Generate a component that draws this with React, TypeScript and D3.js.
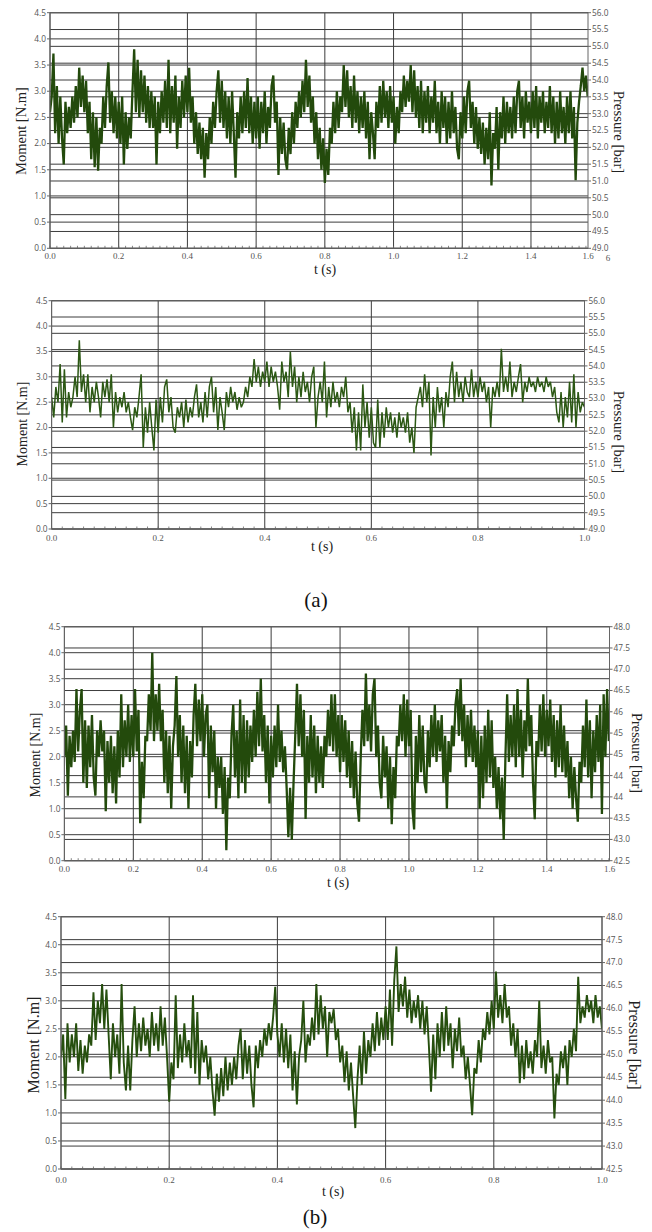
import React from 'react';
import * as d3 from 'd3';

// ---------- tick values / labels ----------
const momentTicks = [0, 0.5, 1.0, 1.5, 2.0, 2.5, 3.0, 3.5, 4.0, 4.5];
const pressureTicksA = [49.0, 49.5, 50.0, 50.5, 51.0, 51.5, 52.0, 52.5, 53.0, 53.5, 54.0, 54.5, 55.0, 55.5, 56.0];
const pressureLabelsA = ['49.0', '49.5', '50.0', '50.5', '51.0', '51.5', '52.0', '52.5', '53.0', '53.5', '54.0', '54.5', '55.0', '55.5', '56.0'];
const pressureTicksB = [42.5, 43.0, 43.5, 44.0, 44.5, 45.0, 45.5, 46.0, 46.5, 47.0, 47.5, 48.0];
const pressureLabelsB3 = ['42.5', '43.0', '43.5', '44', '44', '45', '45', '46', '46.5', '47.0', '47.5', '48.0'];
const pressureLabelsB4 = ['42.5', '43.0', '43.5', '44.0', '44.5', '45.0', '45.5', '46.0', '46.5', '47.0', '47.5', '48.0'];
const timeTicksLong = [0, 0.2, 0.4, 0.6, 0.8, 1.0, 1.2, 1.4];
const timeTicksShort = [0, 0.2, 0.4, 0.6, 0.8, 1.0];

// ---------- series (moment, N.m) ----------
// (a) top: sample every 0.005 s
const momentA1 = [
  2.6, 2.9, 3.72, 2.2, 3.1, 2.0, 2.9, 2.1, 1.6, 2.8,
  2.2, 2.7, 2.3, 2.9, 2.4, 3.1, 2.5, 3.45, 2.7, 3.3,
  2.6, 3.2, 2.2, 2.8, 1.7, 2.6, 1.55, 2.5, 1.48, 2.3,
  2.0, 2.9, 2.3, 3.1, 3.55, 2.4, 3.0, 2.2, 2.9, 2.1,
  2.8, 2.0, 2.9, 1.6, 2.6, 1.9, 2.5, 2.1, 3.0, 3.8,
  2.6, 3.6, 2.5, 3.4, 2.6, 3.3, 2.4, 3.1, 2.3, 3.0,
  2.3, 2.9, 1.6, 2.8, 2.2, 3.0, 2.4, 3.2, 2.3, 3.6,
  2.2, 3.1, 2.4, 3.3, 1.9, 2.9, 2.3, 3.2, 2.5, 3.3,
  2.6, 3.45, 2.4, 2.9, 2.0, 2.6, 1.8, 2.4, 1.7, 2.3,
  1.35, 2.2, 1.7, 2.5, 2.0, 2.8, 2.3, 3.0, 3.4, 2.4,
  3.2, 2.3, 3.0, 2.1, 2.9, 2.0, 3.0, 2.2, 1.35, 2.6,
  2.1, 2.9, 2.2, 3.0, 2.3, 3.25, 2.2, 2.9, 2.0, 2.8,
  2.1, 2.9, 1.9, 2.8, 2.2, 3.0, 2.0, 2.7, 2.3, 3.1,
  3.3, 2.4, 2.8, 1.4, 2.5, 1.8, 2.4, 1.7, 1.5, 2.3,
  1.8, 2.6, 2.0, 2.8, 2.3, 3.0, 2.5, 3.2, 2.6, 3.6,
  2.7, 3.3, 2.4, 2.9, 2.0, 2.6, 1.7, 2.3, 1.5, 2.1,
  1.25, 1.9, 1.4, 2.3, 2.0, 2.8, 2.2, 3.0, 2.3, 2.9,
  2.6, 3.5, 2.7, 3.4, 2.5, 3.1, 2.3, 3.3, 2.4, 3.0,
  2.2, 2.9, 2.3, 3.0, 2.1, 2.8, 1.7, 2.6, 2.2, 1.7,
  2.8, 2.3, 3.1, 2.4, 3.2, 2.5, 3.0, 2.3, 3.1, 2.4,
  2.9, 2.0, 2.7, 2.2, 3.0, 2.6, 3.3, 2.7, 3.2, 2.8,
  3.5, 2.6, 3.4, 2.5, 3.1, 2.3, 3.2, 2.2, 3.0, 2.4,
  3.1, 2.2, 2.9, 2.4, 3.2, 2.2, 2.8, 2.0, 3.0, 2.3,
  2.9, 2.0, 2.8, 2.1, 3.0, 2.2, 2.7, 1.9, 1.7, 2.6,
  2.1, 2.9, 2.2, 3.0, 3.2, 2.3, 2.8, 2.0, 2.7, 1.9,
  2.5, 1.8, 2.4, 1.6, 2.3, 1.7, 2.6, 1.2, 2.2, 1.9,
  2.7, 1.5, 2.6, 2.1, 2.9, 2.0, 2.8, 2.2, 2.7, 2.1,
  2.9, 2.2, 3.0, 3.2, 2.3, 2.9, 2.1, 3.0, 2.4, 2.8,
  2.2, 3.0, 2.3, 3.1, 2.1, 2.9, 2.4, 3.0, 2.2, 2.8,
  2.3, 3.1, 2.2, 2.9, 2.0, 2.8, 2.1, 3.0, 2.2, 2.7,
  2.0, 2.9, 2.2, 3.0, 2.1, 2.7, 1.3, 2.4, 2.8, 3.1,
  3.45, 3.0, 3.3, 2.9,
];

// (a) bottom: sample every 0.004 s
const momentA2 = [
  2.6, 2.2, 2.8, 2.5, 3.25, 2.1, 3.15, 2.2, 2.7, 2.4,
  2.6, 3.0, 2.6, 3.72, 2.7, 3.05, 2.5, 3.05, 2.3, 2.8,
  2.5, 2.9, 2.6, 2.2, 2.9, 2.6, 2.95, 2.5, 3.05, 2.0,
  2.7, 2.3, 2.6, 2.4, 2.7, 2.3, 2.5, 2.2, 1.95, 2.4,
  2.2, 2.6, 3.05, 1.6, 2.4, 1.9, 2.5, 2.0, 1.55, 2.55,
  1.9, 2.6, 2.1, 2.8, 2.95, 2.3, 2.6, 2.0, 1.9, 2.4,
  2.2, 2.5, 2.0, 2.55, 2.1, 2.4, 2.2, 2.6, 2.85, 2.2,
  2.5, 2.1, 2.7, 2.2, 2.8, 3.0, 2.3, 2.8, 1.95, 2.6,
  2.3, 1.95, 2.7, 2.4, 2.8, 2.5, 2.7, 2.35, 2.6, 2.4,
  2.5, 2.8, 2.6, 3.0, 2.8, 3.35, 2.9, 3.2, 2.8, 3.1,
  2.9, 3.3, 2.8, 3.2, 2.9, 3.1, 2.8, 2.35, 3.3, 2.9,
  3.1, 2.6, 3.5, 2.8, 3.2, 2.5, 3.0, 2.6, 3.1, 2.7,
  2.9, 2.5, 3.0, 3.2, 2.0, 2.6, 2.9, 2.5, 3.3, 2.2,
  2.8, 2.4, 2.9, 2.5, 2.7, 2.4, 2.8, 2.6, 3.0, 2.3,
  2.5, 1.9, 2.4, 1.55, 2.3, 1.55, 2.85, 2.0, 2.5, 1.8,
  2.4, 1.7, 1.6, 2.55, 1.6, 2.3, 1.8, 2.4, 2.0, 2.3,
  1.9, 2.2, 1.8, 2.3, 2.0, 2.2, 1.9, 2.3, 1.7, 2.0,
  1.5, 2.4, 2.6, 2.8, 2.4, 3.05, 2.5, 2.9, 1.45, 2.6,
  2.0, 2.8, 2.3, 2.6, 2.0, 2.7, 2.4, 3.0, 3.3, 2.5,
  3.1, 2.6, 2.9, 2.5, 3.0, 2.7, 2.6, 3.15, 2.6, 2.9,
  2.6, 3.0, 2.7, 2.9, 2.5, 2.8, 2.0, 2.8, 2.6, 2.9,
  2.6, 3.55, 2.7, 3.0, 2.7, 3.3, 2.6, 2.9, 2.7, 3.0,
  3.25, 2.5, 2.9, 2.7, 3.0, 2.8, 2.9, 2.7, 3.0, 2.8,
  2.9, 2.7, 3.0, 2.8, 2.9, 2.6, 2.8, 2.3, 2.1, 2.7,
  2.0, 2.6, 2.2, 2.9, 2.1, 3.05, 2.0, 2.7, 2.3, 2.5,
  2.4,
];

// (b) top: sample every 0.005 s
const momentB1 = [
  2.0, 2.6, 1.25, 2.4, 1.8, 2.5, 1.9, 3.3, 2.1, 2.9,
  3.3, 1.5, 2.7, 1.4, 2.6, 1.8, 2.8, 1.6, 1.25, 2.5,
  2.0, 2.7, 2.1, 2.5, 0.95, 2.3, 1.5, 2.4, 1.3, 2.2,
  1.1, 2.5, 1.6, 3.2, 1.8, 2.7, 2.0, 3.0, 1.9, 2.8,
  2.0, 3.3, 2.1, 2.9, 0.72, 1.9, 1.2, 2.4, 2.3, 3.2,
  2.5, 4.0, 2.3, 3.2, 2.5, 3.4, 2.3, 2.9, 1.5, 2.5,
  1.3, 2.4, 1.0, 2.2, 2.6, 3.55, 2.0, 2.8, 1.5, 2.6,
  1.3, 2.4, 1.0, 2.3, 1.6, 2.8, 3.4, 2.2, 3.1, 2.3,
  3.2, 2.0, 2.8, 3.0, 1.2, 2.6, 1.7, 2.5, 1.0, 2.0,
  1.4, 2.0, 0.9, 1.8, 0.2, 1.6, 1.2, 2.4, 3.0, 1.6,
  2.5, 1.2, 3.1, 1.5, 2.8, 1.3, 2.7, 1.6, 2.6, 1.9,
  2.9, 2.0, 3.25, 2.2, 3.5, 2.1, 2.8, 1.5, 2.6, 1.1,
  2.4, 1.6, 2.6, 1.8, 3.0, 1.9, 2.5, 1.7, 2.2, 1.4,
  0.45, 1.4, 0.4, 1.5, 2.4, 3.4, 2.2, 3.2, 2.0, 2.9,
  0.8, 2.4, 1.5, 2.8, 1.6, 2.6, 1.3, 2.4, 1.5, 2.2,
  1.4, 2.4, 2.0, 2.9, 2.2, 3.2, 2.1, 3.2, 2.0, 2.8,
  1.7, 2.8, 1.9, 2.7, 1.6, 2.5, 1.4, 2.3, 1.2, 2.1,
  1.1, 0.75, 2.0, 2.9, 2.2, 3.6, 2.3, 3.0, 2.1, 3.2,
  3.5, 2.0, 2.6, 1.5, 1.2, 2.4, 1.6, 2.2, 1.0, 2.0,
  0.7, 1.8, 1.2, 2.4, 2.2, 3.0, 2.3, 3.2, 2.0, 3.1,
  2.2, 2.9, 1.0, 0.6, 2.4, 1.5, 2.8, 1.7, 2.6, 1.5,
  1.3, 2.5, 1.8, 2.8, 2.0, 3.0, 1.9, 2.7, 2.1, 2.8,
  1.5, 2.4, 1.0, 2.3, 1.7, 2.6, 2.2, 3.0, 3.3, 2.4,
  3.5, 2.3, 3.0, 1.8, 2.8, 2.0, 2.9, 1.9, 2.6, 1.8,
  2.5, 1.0, 2.4, 1.2, 2.6, 1.5, 2.9, 1.6, 2.7, 1.4,
  2.0, 1.0, 1.8, 0.8, 1.6, 0.4, 2.0, 3.2, 1.9, 2.8,
  2.0, 3.0, 1.8, 3.3, 2.0, 2.9, 1.6, 2.7, 2.1, 3.5,
  2.2, 2.8, 1.5, 0.8, 2.3, 2.0, 3.0, 2.1, 3.2, 2.0,
  2.9, 2.2, 3.1, 1.9, 2.8, 1.6, 2.7, 1.8, 3.0, 1.7,
  2.6, 1.6, 2.3, 1.2, 2.0, 1.0, 1.8, 1.2, 0.75, 1.9,
  1.5, 2.6, 1.8, 3.1, 1.6, 2.7, 1.2, 2.5, 1.7, 2.8,
  1.9, 3.0, 0.9, 3.2, 2.0, 3.3, 2.3,
];

// (b) bottom: sample every 0.004 s
const momentB2 = [
  2.0, 2.4, 1.25, 2.6, 1.9, 2.4, 2.0, 2.6, 1.75, 2.3,
  1.7, 2.2, 1.9, 2.4, 2.2, 3.15, 2.3, 3.0, 2.6, 3.3,
  2.5, 3.2, 2.4, 1.6, 2.6, 2.0, 2.4, 1.7, 3.3, 1.9,
  1.4, 2.2, 1.4, 2.3, 2.9, 2.0, 2.6, 2.1, 2.7, 2.2,
  2.5, 2.0, 2.8, 2.2, 2.6, 2.1, 2.9, 2.2, 2.7, 2.0,
  1.2, 1.9, 1.6, 3.1, 1.8, 2.4, 1.9, 2.6, 2.0, 2.3,
  1.8, 3.1, 1.7, 2.8, 1.5, 2.3, 1.9, 2.2, 1.6, 2.0,
  1.4, 0.95, 1.7, 1.2, 1.8, 1.3, 2.0, 1.4, 1.9, 1.5,
  2.0, 1.6, 2.2, 2.5, 1.6, 2.3, 1.7, 2.2, 1.5, 1.1,
  2.2, 1.8, 2.3, 2.0, 2.5, 2.2, 2.6, 2.3, 2.7, 3.25,
  2.4, 2.0, 2.6, 1.9, 2.5, 1.8, 2.4, 1.4, 2.1, 1.15,
  2.0, 2.3, 3.0, 1.9, 2.4, 2.2, 2.7, 2.3, 3.3, 2.4,
  3.1, 2.5, 2.9, 2.0, 2.8, 2.6, 2.85, 2.3, 2.5, 1.9,
  2.2, 1.55, 2.1, 1.4, 1.9, 1.3, 0.73, 1.6, 2.2, 1.5,
  2.45, 1.7, 2.3, 2.0, 2.6, 2.1, 2.8, 2.2, 2.7, 2.3,
  2.9, 2.3, 3.2, 2.2, 3.37, 3.97, 2.8, 3.3, 2.9, 3.43,
  2.7, 3.2, 2.6, 3.0, 2.7, 3.1, 2.5, 3.0, 2.4, 2.9,
  2.2, 1.38, 2.4, 1.6, 2.6, 2.0, 2.8, 2.1, 2.9, 2.2,
  2.6, 1.8, 2.5, 2.1, 2.7, 2.0, 2.2, 1.6, 2.0, 1.5,
  0.96, 1.8, 1.7, 2.3, 1.9, 2.5, 2.3, 2.8, 2.4, 3.0,
  2.5, 3.52, 2.7, 3.1, 2.6, 3.3, 2.7, 2.9, 2.2, 2.6,
  2.0, 2.5, 1.53, 2.2, 1.6, 2.3, 1.8, 2.1, 1.7, 2.3,
  2.0, 3.0, 1.8, 2.2, 1.7, 2.3, 1.9, 2.0, 0.9, 1.7,
  1.5, 2.1, 1.8, 2.2, 1.5, 2.3, 2.0, 2.5, 2.1, 3.43,
  2.6, 2.9, 2.7, 3.1, 2.8, 3.0, 2.6, 3.1, 2.7, 2.9,
  2.5,
];

type PanelCfg = {
  data: number[];
  step: number;
  tMax: number;
  timeTicks: number[];
  endLabel?: string;
  strayLabel?: string;
  pDomain: [number, number];
  pTicks: number[];
  pLabels: string[];
  left: number; right: number; top: number; bottom: number;
  xLabelDy: number;
  momentPos: [number, number]; momentSize: number;
  pressurePos: [number, number]; pressureSize: number;
  tPos: [number, number]; tSize: number;
  lineWidth: number;
  lineColor: string;
};

const panels: PanelCfg[] = [
  {
    data: momentA1, step: 0.005, tMax: 1.566, timeTicks: timeTicksLong, endLabel: '1.6', strayLabel: '6',
    pDomain: [49, 56], pTicks: pressureTicksA, pLabels: pressureLabelsA,
    left: 50, right: 588, top: 12.7, bottom: 248.3, xLabelDy: 11,
    momentPos: [21, 131], momentSize: 14.5, pressurePos: [619, 132], pressureSize: 14.8,
    tPos: [325, 274], tSize: 14, lineWidth: 2.3, lineColor: '#234a0c',
  },
  {
    data: momentA2, step: 0.004, tMax: 1.0, timeTicks: timeTicksShort,
    pDomain: [49, 56], pTicks: pressureTicksA, pLabels: pressureLabelsA,
    left: 51.6, right: 584.5, top: 300.7, bottom: 529, xLabelDy: 11.5,
    momentPos: [22, 424], momentSize: 14, pressurePos: [619, 432], pressureSize: 14.8,
    tPos: [322, 551], tSize: 14, lineWidth: 1.5, lineColor: '#2c5814',
  },
  {
    data: momentB1, step: 0.005, tMax: 1.582, timeTicks: timeTicksLong, endLabel: '1.6',
    pDomain: [42.5, 48], pTicks: pressureTicksB, pLabels: pressureLabelsB3,
    left: 64.4, right: 609.5, top: 626.7, bottom: 860.7, xLabelDy: 11,
    momentPos: [35, 755], momentSize: 14, pressurePos: [637, 753], pressureSize: 14.3,
    tPos: [338, 887], tSize: 14, lineWidth: 2.3, lineColor: '#234a0c',
  },
  {
    data: momentB2, step: 0.004, tMax: 1.0, timeTicks: timeTicksShort,
    pDomain: [42.5, 48], pTicks: pressureTicksB, pLabels: pressureLabelsB4,
    left: 61, right: 602, top: 916.7, bottom: 1169, xLabelDy: 14,
    momentPos: [33, 1045], momentSize: 16, pressurePos: [635, 1045], pressureSize: 16,
    tPos: [333, 1196], tSize: 14, lineWidth: 1.9, lineColor: '#264f0e',
  },
];

const GRID = '#3c3c3c';
const AXIS = '#666';
const TICK_TXT = '#555';
const SERIF = '"Liberation Serif", "Times New Roman", serif';
const SANS = '"Open Sans", "Noto Sans", sans-serif';

function Panel({ cfg, idx }: { cfg: PanelCfg; idx: number }) {
  const x = d3.scaleLinear().domain([0, cfg.tMax]).range([cfg.left, cfg.right]);
  const y = d3.scaleLinear().domain([0, 4.5]).range([cfg.bottom, cfg.top]);
  const yp = d3.scaleLinear().domain(cfg.pDomain).range([cfg.bottom, cfg.top]);
  const line = d3.line<number>()
    .x((_, i) => x(i * cfg.step))
    .y((d) => y(d));
  const minor = d3.range(0, cfg.tMax + 1e-9, 0.02);
  const clipId = `clip-${idx}`;
  return (
    <g>
      <defs>
        <clipPath id={clipId}>
          <rect x={cfg.left} y={cfg.top} width={cfg.right - cfg.left} height={cfg.bottom - cfg.top} />
        </clipPath>
      </defs>
      {momentTicks.map((v) => (
        <line key={'gm' + v} x1={cfg.left} x2={cfg.right} y1={y(v)} y2={y(v)} stroke={GRID} strokeWidth={1} />
      ))}
      {cfg.pTicks.map((v) => (
        <line key={'gp' + v} x1={cfg.left} x2={cfg.right} y1={yp(v)} y2={yp(v)} stroke={GRID} strokeWidth={1} />
      ))}
      {cfg.timeTicks.map((v) => (
        <line key={'gx' + v} x1={x(v)} x2={x(v)} y1={cfg.top} y2={cfg.bottom} stroke={GRID} strokeWidth={1} />
      ))}
      <path d={line(cfg.data) || ''} fill="none" stroke={cfg.lineColor} strokeWidth={cfg.lineWidth}
        strokeLinejoin="bevel" clipPath={`url(#${clipId})`} />
      <rect x={cfg.left} y={cfg.top} width={cfg.right - cfg.left} height={cfg.bottom - cfg.top}
        fill="none" stroke={AXIS} strokeWidth={1} />
      {momentTicks.map((v) => (
        <g key={'lt' + v}>
          <line x1={cfg.left - 3} x2={cfg.left} y1={y(v)} y2={y(v)} stroke={AXIS} />
          <text x={cfg.left - 4} y={y(v)} dy="0.35em" textAnchor="end" fontFamily={SANS}
            fontSize={8.3} fill={TICK_TXT}>{v.toFixed(1)}</text>
        </g>
      ))}
      {cfg.pTicks.map((v, i) => (
        <g key={'rt' + v}>
          <line x1={cfg.right} x2={cfg.right + 3} y1={yp(v)} y2={yp(v)} stroke={AXIS} />
          <text x={cfg.right + 4} y={yp(v)} dy="0.35em" textAnchor="start" fontFamily={SANS}
            fontSize={8.3} fill={TICK_TXT}>{cfg.pLabels[i]}</text>
        </g>
      ))}
      {minor.map((v) => (
        <line key={'mx' + v} x1={x(v)} x2={x(v)} y1={cfg.bottom} y2={cfg.bottom - 2.5} stroke={AXIS} strokeWidth={0.8} />
      ))}
      {cfg.timeTicks.map((v) => (
        <text key={'xt' + v} x={x(v)} y={cfg.bottom + cfg.xLabelDy} textAnchor="middle" fontFamily={SERIF}
          fontSize={9} fill={TICK_TXT}>{v.toFixed(1)}</text>
      ))}
      {cfg.endLabel && (
        <text x={cfg.right} y={cfg.bottom + cfg.xLabelDy} textAnchor="middle" fontFamily={SERIF}
          fontSize={9} fill={TICK_TXT}>{cfg.endLabel}</text>
      )}
      {cfg.strayLabel && (
        <text x={cfg.right + 20} y={cfg.bottom + cfg.xLabelDy + 2} textAnchor="middle" fontFamily={SERIF}
          fontSize={9} fill={TICK_TXT}>{cfg.strayLabel}</text>
      )}
      <text transform={`translate(${cfg.momentPos[0]},${cfg.momentPos[1]}) rotate(-90)`} textAnchor="middle"
        dy="0.35em" fontFamily={SERIF} fontSize={cfg.momentSize} fill="#222">Moment [N.m]</text>
      <text transform={`translate(${cfg.pressurePos[0]},${cfg.pressurePos[1]}) rotate(90)`} textAnchor="middle"
        dy="0.35em" fontFamily={SERIF} fontSize={cfg.pressureSize} fill="#222">Pressure [bar]</text>
      <text x={cfg.tPos[0]} y={cfg.tPos[1]} textAnchor="middle" fontFamily={SERIF} fontSize={cfg.tSize}
        fill="#222">t (s)</text>
    </g>
  );
}

export default function App() {
  return (
    <svg width={652} height={1232} style={{ position: 'absolute', left: 0, top: 0, background: '#fff' }}>
      <rect x={0} y={0} width={652} height={1232} fill="#fff" />
      {panels.map((p, i) => (
        <Panel key={i} cfg={p} idx={i} />
      ))}
      <text x={316} y={607} textAnchor="middle" fontFamily={SERIF} fontSize={21} fill="#111">(a)</text>
      <text x={315} y={1224} textAnchor="middle" fontFamily={SERIF} fontSize={21} fill="#111">(b)</text>
    </svg>
  );
}
